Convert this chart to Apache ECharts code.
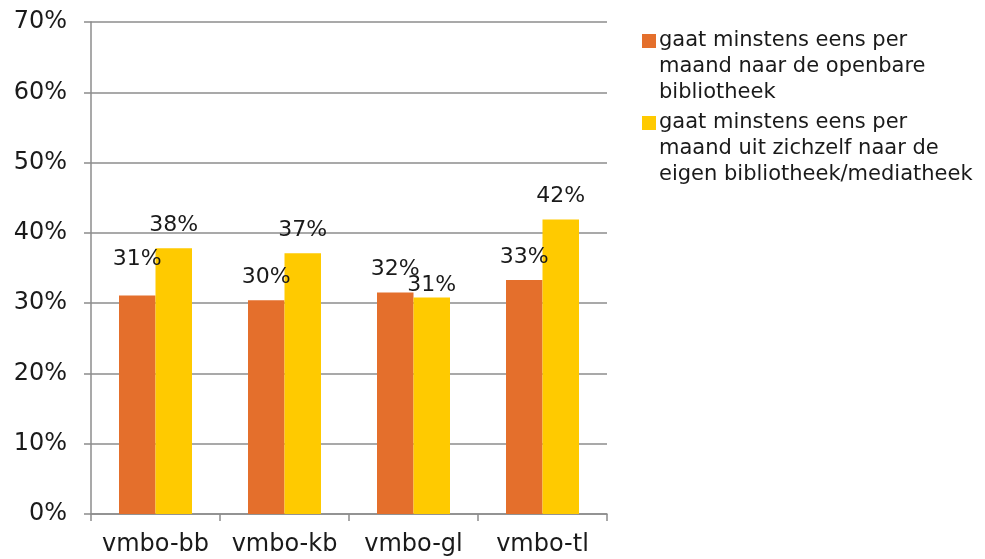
<!DOCTYPE html>
<html>
<head>
<meta charset="utf-8">
<script src="https://cdn.jsdelivr.net/npm/echarts@6/dist/echarts.min.js"></script>
<style>html,body{margin:0;padding:0;background:#fff}#c{width:985px;height:559px}</style>
</head>
<body>
<div id="c"></div>
<script>
var categories = ['vmbo-bb', 'vmbo-kb', 'vmbo-gl', 'vmbo-tl'];
var seriesNames = [
  'gaat minstens eens per maand naar de openbare bibliotheek',
  'gaat minstens eens per maand uit zichzelf naar de eigen bibliotheek/mediatheek'
];
var legendLines = [
  ['gaat minstens eens per', 'maand naar de openbare', 'bibliotheek'],
  ['gaat minstens eens per', 'maand uit zichzelf naar de', 'eigen bibliotheek/mediatheek']
];
var openbareValues = [31.1, 30.4, 31.5, 33.3];
var eigenValues = [37.8, 37.1, 30.8, 41.9];
var yTicks = [0, 10, 20, 30, 40, 50, 60, 70];

var colors = ['#E46F2C', '#FFCA00'];
var FONT = 'DejaVu Sans';
var labelDist = [[25, 12, 12, 12], [12, 12, 1, 12]];

function build(vals, si) {
  return vals.map(function (v, i) {
    return { value: v, label: { distance: labelDist[si][i] } };
  });
}

var chart = echarts.init(document.getElementById('c'), null, { renderer: 'canvas' });

var graphic = [];
var legendTop = [34, 116];
legendLines.forEach(function (lines, i) {
  graphic.push({ type: 'rect', left: 642, top: legendTop[i], shape: { width: 14, height: 14 }, style: { fill: colors[i] } });
  graphic.push({ type: 'text', left: 659, top: legendTop[i] - 6, style: { text: lines.join('\n'), font: '21px ' + FONT, lineHeight: 26, fill: '#1a1a1a' } });
});

function pct(p) { return Math.round(p.value) + '%'; }

chart.setOption({
  animation: false,
  backgroundColor: '#fff',
  grid: { left: 91, right: 378, top: 22, bottom: 45 },
  graphic: graphic,
  xAxis: {
    type: 'category',
    data: categories,
    axisLine: { lineStyle: { color: '#8c8c8c', width: 1.5 } },
    axisTick: { show: true, length: 7, lineStyle: { color: '#8c8c8c', width: 1.5 } },
    axisLabel: { interval: 0, color: '#1a1a1a', fontFamily: FONT, fontSize: 24, margin: 19 }
  },
  yAxis: {
    type: 'value',
    min: yTicks[0],
    max: yTicks[yTicks.length - 1],
    interval: yTicks[1] - yTicks[0],
    axisLine: { show: true, lineStyle: { color: '#8c8c8c', width: 1.5 } },
    axisTick: { show: true, length: 7, lineStyle: { color: '#8c8c8c', width: 1.5 } },
    splitLine: { lineStyle: { color: '#8c8c8c', width: 1.5 } },
    axisLabel: { color: '#1a1a1a', fontFamily: FONT, fontSize: 24, margin: 24, formatter: '{value}%' }
  },
  series: [
    {
      name: seriesNames[0], type: 'bar', data: build(openbareValues, 0),
      barWidth: 36.5, barGap: '0%',
      itemStyle: { color: colors[0] },
      label: { show: true, position: 'top', color: '#1a1a1a', fontFamily: FONT, fontSize: 22, lineHeight: 22, formatter: pct }
    },
    {
      name: seriesNames[1], type: 'bar', data: build(eigenValues, 1),
      barWidth: 36.5, barGap: '0%',
      itemStyle: { color: colors[1] },
      label: { show: true, position: 'top', color: '#1a1a1a', fontFamily: FONT, fontSize: 22, lineHeight: 22, formatter: pct }
    }
  ]
});
</script>
</body>
</html>
